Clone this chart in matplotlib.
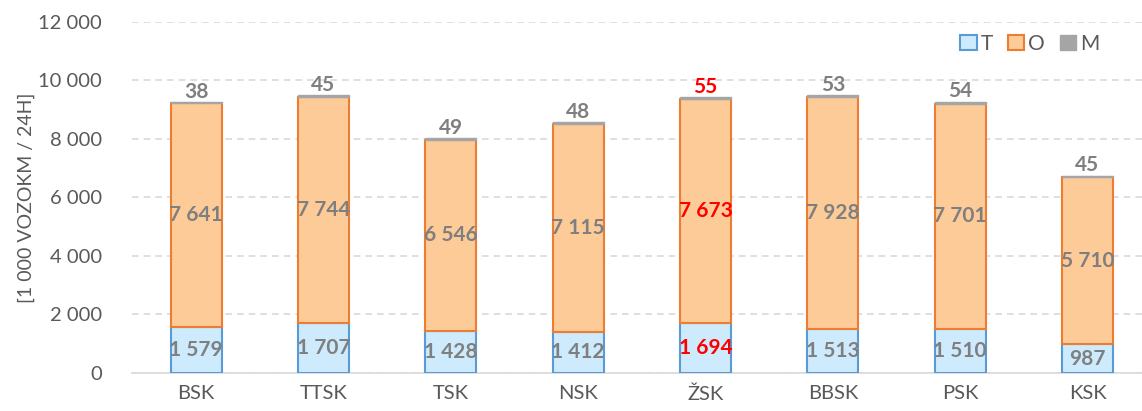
import numpy as np
import matplotlib.pyplot as plt
from matplotlib.ticker import FuncFormatter

kraje = ["BSK", "TTSK", "TSK", "NSK", "ŽSK", "BBSK", "PSK", "KSK"]
t_vals = [1579, 1707, 1428, 1412, 1694, 1513, 1510, 987]
o_vals = [7641, 7744, 6546, 7115, 7673, 7928, 7701, 5710]
m_vals = [38, 45, 49, 48, 55, 53, 54, 45]
highlight = "ŽSK"

plt.rcParams['font.family'] = ['Lato', 'DejaVu Sans']

fig = plt.figure(figsize=(11.42, 4.11), dpi=100)
ax = fig.add_axes([0.116, 0.0925, 0.892, 0.854])

x = np.arange(len(kraje))
w = 0.4
t = np.array(t_vals)
o = np.array(o_vals)
m = np.array(m_vals)

ax.bar(x, t, w, color="#CDEBFC", edgecolor="#5B9BD5", linewidth=1.5, label="T", zorder=3)
ax.bar(x, o, w, bottom=t, color="#FDCB98", edgecolor="#ED7D31", linewidth=1.5, label="O", zorder=3)
ax.bar(x, m, w, bottom=t + o, color="#A5A5A5", edgecolor="#A5A5A5", linewidth=1, label="M", zorder=3)

def fmt(v):
    return f"{v:,}".replace(",", " ")

for i, k in enumerate(kraje):
    c = "#FF0000" if k == highlight else "#7F7F7F"
    ax.text(i, t[i] / 2, fmt(t[i]), ha="center", va="center", color=c,
            fontsize=15, fontweight="bold", zorder=4)
    ax.text(i, t[i] + o[i] / 2, fmt(o[i]), ha="center", va="center", color=c,
            fontsize=15, fontweight="bold", zorder=4)
    ax.text(i, t[i] + o[i] + m[i] + 20, fmt(m[i]), ha="center", va="bottom", color=c,
            fontsize=15, fontweight="bold", zorder=4)

ax.set_ylim(0, 12000)
ax.set_xlim(-0.5, len(kraje) - 0.5)
ax.set_yticks(range(0, 12001, 2000))
ax.yaxis.set_major_formatter(FuncFormatter(lambda v, p: fmt(int(v))))
ax.set_xticks(x)
ax.set_xticklabels(kraje)
ax.tick_params(axis="both", length=0, labelsize=14.5, colors="#595959", pad=9)
ax.tick_params(axis="y", pad=22)
ax.grid(axis="y", color="#D9D9D9", linestyle=(0, (4, 3)), linewidth=1.2, zorder=0)
for s in ["top", "right", "left"]:
    ax.spines[s].set_visible(False)
ax.spines["bottom"].set_color("#D9D9D9")
ax.spines["bottom"].set_linewidth(1.2)

ax.set_ylabel("[1 000 VOZOKM / 24H]", fontsize=14, color="#595959", labelpad=2)

leg = ax.legend(loc="upper right", bbox_to_anchor=(0.968, 1.02), ncol=3, frameon=False,
                fontsize=15, handlelength=0.8, handleheight=0.8, handletextpad=0.2,
                columnspacing=0.7)
for txt in leg.get_texts():
    txt.set_color("#595959")

fig.savefig("out.png", dpi=100)
